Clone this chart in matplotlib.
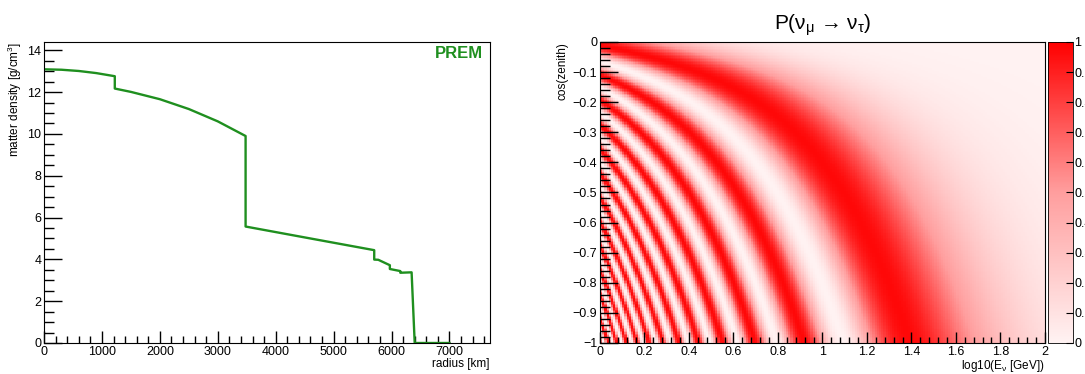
import numpy as np
import matplotlib.pyplot as plt
from matplotlib.colors import LinearSegmentedColormap
from matplotlib.ticker import MultipleLocator

plt.rcParams['font.family'] = ['Liberation Sans', 'DejaVu Sans']
plt.rcParams['mathtext.fontset'] = 'custom'
plt.rcParams['mathtext.rm'] = 'Liberation Sans'
plt.rcParams['mathtext.it'] = 'Liberation Sans'

# PREM density profile (radius in km, density in g/cm^3)
radius = [0, 300, 600, 900, 1221.5, 1221.5, 1500, 2000, 2500, 3000, 3480,
          3480, 4500, 5701, 5701, 5771, 5771, 5971, 5971, 6151, 6151,
          6346.6, 6400, 7000]
density = [13.09, 13.07, 13.01, 12.91, 12.76, 12.17, 12.01, 11.66, 11.19,
           10.60, 9.90, 5.57, 5.05, 4.44, 3.99, 3.98, 3.98, 3.72, 3.54,
           3.44, 3.36, 3.38, 0.0, 0.0]

# oscillation parameters for the nu_mu -> nu_tau oscillogram
dm2 = 2.4e-3          # eV^2
sin2_2theta = 0.97
r_earth = 6371.0      # km
h_prod = 15.0         # km, production height
log_e = np.linspace(0, 2, 201)
cos_z = np.linspace(-1, 0, 201)

fig = plt.figure(figsize=(10.85, 3.74), dpi=100)

# ---- left: PREM ----
ax1 = fig.add_axes([0.0406, 0.0829, 0.411, 0.805])
ax1.plot(radius, density, color='#1f8f1f', lw=1.7)
ax1.set_xlim(0, 7700)
ax1.set_ylim(0, 14.4)
ax1.xaxis.set_major_locator(MultipleLocator(1000))
ax1.xaxis.set_minor_locator(MultipleLocator(200))
ax1.yaxis.set_major_locator(MultipleLocator(2))
ax1.yaxis.set_minor_locator(MultipleLocator(0.5))
ax1.tick_params(which='both', direction='in', labelsize=9, width=1, pad=2)
ax1.tick_params(axis='y', which='major', length=13)
ax1.tick_params(axis='y', which='minor', length=7)
ax1.tick_params(axis='x', which='major', length=9)
ax1.tick_params(axis='x', which='minor', length=5)
ax1.set_xlabel('radius [km]', fontsize=8.5, loc='right', labelpad=0)
ax1.set_ylabel('matter density [g/cm$^3$]', fontsize=8.5, loc='top', labelpad=2)
ax1.text(0.985, 0.985, 'PREM', transform=ax1.transAxes, ha='right', va='top',
         color='#1f8f1f', fontsize=12, fontweight='bold')

# ---- right: oscillogram ----
E, C = np.meshgrid(10 ** log_e, cos_z)
L = np.sqrt((r_earth + h_prod) ** 2 - r_earth ** 2 * (1 - C ** 2)) - r_earth * C
prob = sin2_2theta * np.sin(1.267 * dm2 * L / E) ** 2

cmap = LinearSegmentedColormap.from_list(
    'wr', [(0.0, (1.0, 0.95, 0.95)), (0.5, (1.0, 0.62, 0.62)), (1.0, (1.0, 0.0, 0.0))])
ax2 = fig.add_axes([0.553, 0.0829, 0.410, 0.805])
im = ax2.imshow(prob, origin='lower', extent=[0, 2, -1, 0], aspect='auto',
                cmap=cmap, vmin=0, vmax=1, interpolation='nearest')
ax2.xaxis.set_minor_locator(MultipleLocator(0.04))
ax2.yaxis.set_minor_locator(MultipleLocator(0.02))
ax2.tick_params(which='both', direction='in', labelsize=9, width=1, pad=2)
ax2.tick_params(axis='y', which='major', length=13)
ax2.tick_params(axis='y', which='minor', length=7)
ax2.tick_params(axis='x', which='major', length=8)
ax2.tick_params(axis='x', which='minor', length=4)
yt = np.round(np.arange(-1, 0.01, 0.1), 1)
ax2.set_yticks(yt)
ax2.set_yticklabels([f'{v:g}'.replace('-', '\u2212') if v != 0 else '0' for v in yt])
xt = np.round(np.arange(0, 2.01, 0.2), 1)
ax2.set_xticks(xt)
ax2.set_xticklabels([f'{v:g}' for v in xt])
ax2.set_xlabel('log10(E$_{\\nu}$ [GeV])', fontsize=8.5, loc='right', labelpad=0)
ax2.set_ylabel('cos(zenith)', fontsize=8.5, loc='top', labelpad=3)
ax2.set_title('P(\u03bd$_{\u03bc}$ \u2192 \u03bd$_{\u03c4}$)', fontsize=15, pad=9)

cax = fig.add_axes([0.966, 0.0829, 0.023, 0.805])
cb = fig.colorbar(im, cax=cax)
cb.outline.set_linewidth(0.6)
ct = np.round(np.arange(0, 1.01, 0.1), 1)
cb.set_ticks(ct)
cb.set_ticklabels([f'{v:g}' for v in ct])
cax.tick_params(direction='in', length=5, labelsize=9, pad=1)

fig.savefig('out.png', dpi=100)
